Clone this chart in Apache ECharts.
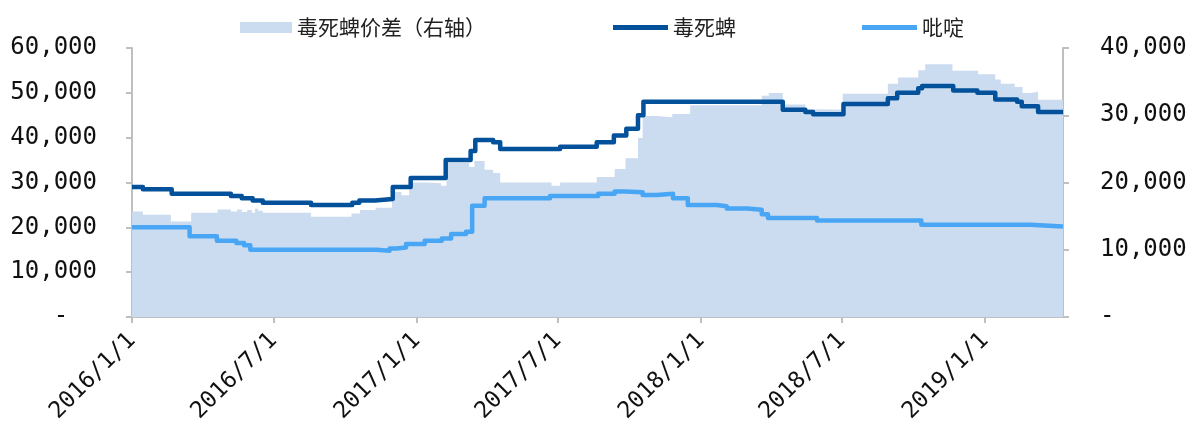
<!DOCTYPE html>
<html>
<head>
<meta charset="utf-8">
<script src="https://cdn.jsdelivr.net/npm/echarts@6/dist/echarts.min.js"></script>
<style>
  html, body { margin: 0; padding: 0; background: #fff; }
  #chart { width: 1187px; height: 428px; }
</style>
</head>
<body>
<div id="chart"></div>
<script>
// 毒死蜱价差（右轴）: price spread, change points (date, value)
const spreadDates = [
  '2016-01-01','2016-01-15','2016-02-20','2016-03-17','2016-04-20','2016-05-07','2016-05-15','2016-05-21',
  '2016-05-28','2016-06-03','2016-06-07','2016-06-11','2016-06-17','2016-08-18','2016-10-09','2016-10-20',
  '2016-11-09','2016-11-30','2016-12-12','2016-12-22','2017-01-15','2017-02-01','2017-02-08','2017-03-09',
  '2017-03-16','2017-03-29','2017-04-09','2017-04-18','2017-06-23','2017-07-04','2017-08-20','2017-09-12',
  '2017-09-26','2017-10-12','2017-10-18','2017-11-05','2017-11-25','2017-12-18','2018-03-20','2018-03-29',
  '2018-04-16','2018-05-15','2018-05-29','2018-07-02','2018-08-29','2018-09-11','2018-10-07','2018-10-16',
  '2018-11-20','2018-12-23','2019-01-14','2019-01-21','2019-02-08','2019-02-18','2019-02-28','2019-03-10',
  '2019-04-11'
];
const spreadValues = [
  15700, 15200, 14200, 15500, 16000, 15700, 16000, 15600,
  15900, 15500, 16100, 15800, 15500, 14900, 15400, 15900,
  16250, 18600, 18100, 20000, 19900, 19500, 22900, 22300,
  23200, 21900, 21400, 20000, 19500, 20000, 20800, 22000,
  23600, 26600, 29900, 29700, 30200, 31500, 32900, 33300,
  31600, 30900, 30800, 33200, 34700, 35600, 36700, 37600,
  36600, 36100, 35300, 34700, 34200, 33300, 33500, 32300,
  32300
];

// 毒死蜱 price
const cpfDates = [
  '2016-01-01','2016-01-15','2016-02-21','2016-05-07','2016-05-21','2016-06-04','2016-06-17','2016-08-18',
  '2016-10-10','2016-10-19','2016-11-08','2016-12-01','2016-12-24','2017-02-07','2017-03-11','2017-03-17',
  '2017-04-09','2017-04-18','2017-07-04','2017-08-20','2017-09-11','2017-09-27','2017-10-12','2017-10-19',
  '2018-04-16','2018-05-15','2018-05-25','2018-07-03','2018-08-29','2018-09-10','2018-10-07','2018-10-12',
  '2018-11-21','2018-12-22','2019-01-14','2019-02-11','2019-02-17','2019-03-10','2019-04-11'
];
const cpfValues = [
  29000, 28500, 27500, 27000, 26500, 26000, 25500, 25000,
  25500, 26000, 26300, 29000, 31000, 35000, 37000, 39500,
  39000, 37500, 38000, 39000, 40500, 42000, 45000, 48000,
  46200, 45700, 45200, 47500, 48800, 50000, 51000, 51500,
  50500, 50000, 48500, 48000, 47000, 45700, 45700
];

// 吡啶 price
const pyrDates = [
  '2016-01-01','2016-03-15','2016-04-19','2016-05-14','2016-05-24','2016-06-01','2016-11-10','2016-11-27',
  '2016-12-06','2016-12-18','2017-01-11','2017-02-02','2017-02-14','2017-03-05','2017-03-13','2017-03-29',
  '2017-06-21','2017-08-22','2017-09-12','2017-09-25','2017-10-18','2017-11-05','2017-11-26','2017-12-15',
  '2018-01-21','2018-02-03','2018-03-01','2018-03-20','2018-03-28','2018-05-30','2018-10-11','2019-02-28',
  '2019-04-11'
];
const pyrValues = [
  20000, 18000, 17000, 16500, 16000, 15000, 14800, 15300,
  15500, 16300, 17000, 17500, 18500, 19000, 24800, 26500,
  27000, 27500, 28000, 27800, 27200, 27500, 26500, 25000,
  24700, 24200, 23900, 22900, 22100, 21500, 20600, 20200,
  20200
];

// half-year ticks on the date axis
const tickDates = ['2016-01-01','2016-07-01','2017-01-01','2017-07-01','2018-01-01','2018-07-01','2019-01-01'];
const startDate = '2016-01-01';
const endDate = '2019-04-11';

const seriesNames = ['毒死蜱价差（右轴）', '毒死蜱', '吡啶'];
const colors = { spread: '#cbdcf0', cpf: '#02519a', pyr: '#49a6f4' };

const DAY = 86400000;
function utc(s) {
  const p = s.split('-').map(Number);
  return Date.UTC(p[0], p[1] - 1, p[2]);
}
// the x axis counts days from the start date
function dayIndex(s) {
  return Math.round((utc(s) - utc(startDate)) / DAY);
}
function pairs(dates, values) {
  return dates.map((d, i) => [dayIndex(d), values[i]]);
}
function dateLabel(v) {
  const d = new Date(utc(startDate) + Math.round(v) * DAY);
  return d.getUTCFullYear() + '/' + (d.getUTCMonth() + 1) + '/' + d.getUTCDate();
}
function thousands(v) {
  return String(Math.round(v)).replace(/\B(?=(\d{3})+(?!\d))/g, ',');
}

const axisGray = '#bfbfbf';
const monoFont = 'DejaVu Sans Mono';
const cjkFont = 'Noto Sans CJK SC';

const legendBase = {
  top: 17,
  padding: 0,
  orient: 'horizontal',
  itemGap: 0,
  textStyle: { fontFamily: cjkFont, fontSize: 21, color: '#222', padding: [0, 0, 0, 0] }
};

const tickDays = tickDates.map(dayIndex);

const chart = echarts.init(document.getElementById('chart'), null, { renderer: 'canvas' });
chart.setOption({
  animation: false,
  backgroundColor: '#fff',
  grid: { left: 132, right: 124, top: 48, bottom: 111, containLabel: false, outerBoundsMode: 'none' },
  legend: [
    Object.assign({}, legendBase, { left: 240, data: [seriesNames[0]], icon: 'rect', itemWidth: 52, itemHeight: 11 }),
    Object.assign({}, legendBase, { left: 613, data: [seriesNames[1]], icon: 'rect', itemWidth: 55, itemHeight: 5 }),
    Object.assign({}, legendBase, { left: 862, data: [seriesNames[2]], icon: 'rect', itemWidth: 55, itemHeight: 5 })
  ],
  xAxis: {
    type: 'value',
    min: 0,
    max: dayIndex(endDate),
    splitLine: { show: false },
    axisLine: { show: true, onZero: false, lineStyle: { color: axisGray, width: 2 } },
    axisTick: { show: true, length: 6, lineStyle: { color: axisGray, width: 2 }, customValues: tickDays },
    axisLabel: {
      customValues: tickDays,
      rotate: 45,
      margin: 20,
      fontFamily: monoFont,
      fontSize: 23,
      color: '#111',
      formatter: dateLabel
    }
  },
  yAxis: [
    {
      type: 'value',
      min: 0, max: 60000, interval: 10000,
      splitLine: { show: false },
      axisLine: { show: true, lineStyle: { color: axisGray, width: 2 } },
      axisTick: { show: true, length: 6, lineStyle: { color: axisGray, width: 2 } },
      axisLabel: {
        margin: 35,
        fontFamily: monoFont,
        fontSize: 24,
        color: '#111',
        formatter: v => (v === 0 ? '-  ' : thousands(v))
      }
    },
    {
      type: 'value',
      min: 0, max: 40000, interval: 10000,
      position: 'right',
      splitLine: { show: false },
      axisLine: { show: true, lineStyle: { color: axisGray, width: 2 } },
      axisTick: { show: true, length: 6, lineStyle: { color: axisGray, width: 2 } },
      axisLabel: {
        margin: 37,
        fontFamily: monoFont,
        fontSize: 24,
        color: '#111',
        formatter: v => (v === 0 ? '-' : thousands(v))
      }
    }
  ],
  series: [
    {
      name: seriesNames[0],
      type: 'line',
      yAxisIndex: 1,
      step: 'end',
      symbol: 'none',
      color: colors.spread,
      lineStyle: { width: 0, color: colors.spread },
      areaStyle: { color: colors.spread, opacity: 1 },
      data: pairs(spreadDates, spreadValues)
    },
    {
      name: seriesNames[1],
      type: 'line',
      yAxisIndex: 0,
      step: 'end',
      symbol: 'none',
      color: colors.cpf,
      lineStyle: { width: 4.5, color: colors.cpf, join: 'round' },
      data: pairs(cpfDates, cpfValues)
    },
    {
      name: seriesNames[2],
      type: 'line',
      yAxisIndex: 0,
      step: 'end',
      symbol: 'none',
      color: colors.pyr,
      lineStyle: { width: 4.5, color: colors.pyr, join: 'round' },
      data: pairs(pyrDates, pyrValues)
    }
  ]
});
</script>
</body>
</html>
